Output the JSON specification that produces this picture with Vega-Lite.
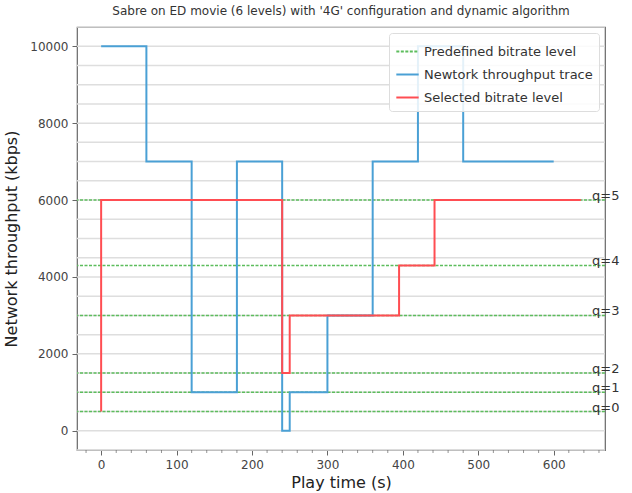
{
  "$schema": "https://vega.github.io/schema/vega-lite/v6.json",
  "autosize": {"type": "none"},
  "padding": {"left": 77, "top": 27, "right": 27, "bottom": 43},
  "width": 528,
  "height": 423,
  "title": {"text": "Sabre on ED movie (6 levels) with '4G' configuration and dynamic algorithm", "fontSize": 12, "fontWeight": "normal", "font": "DejaVu Sans", "color": "#333", "offset": 8},
  "config": {
    "font": "DejaVu Sans",
    "view": {"stroke": "#666", "strokeWidth": 1.2},
    "axis": {"labelFont": "DejaVu Sans", "titleFont": "DejaVu Sans", "labelColor": "#444", "titleColor": "#222", "domainColor": "#666", "tickColor": "#666", "labelFontSize": 12, "titleFontSize": 16, "titleFontWeight": "normal"}
  },
  "datasets": {
    "levels": [
      {"q": "q=0", "kbps": 500, "series": "Predefined bitrate level"},
      {"q": "q=1", "kbps": 1000, "series": "Predefined bitrate level"},
      {"q": "q=2", "kbps": 1500, "series": "Predefined bitrate level"},
      {"q": "q=3", "kbps": 3000, "series": "Predefined bitrate level"},
      {"q": "q=4", "kbps": 4300, "series": "Predefined bitrate level"},
      {"q": "q=5", "kbps": 6000, "series": "Predefined bitrate level"}
    ],
    "traces": [
      {"series": "Newtork throughput trace", "i": 0, "t": 0, "kbps": 10000},
      {"series": "Newtork throughput trace", "i": 1, "t": 60, "kbps": 7000},
      {"series": "Newtork throughput trace", "i": 2, "t": 120, "kbps": 1000},
      {"series": "Newtork throughput trace", "i": 3, "t": 180, "kbps": 7000},
      {"series": "Newtork throughput trace", "i": 4, "t": 240, "kbps": 0},
      {"series": "Newtork throughput trace", "i": 5, "t": 250, "kbps": 1000},
      {"series": "Newtork throughput trace", "i": 6, "t": 300, "kbps": 3000},
      {"series": "Newtork throughput trace", "i": 7, "t": 360, "kbps": 7000},
      {"series": "Newtork throughput trace", "i": 8, "t": 420, "kbps": 10000},
      {"series": "Newtork throughput trace", "i": 9, "t": 480, "kbps": 7000},
      {"series": "Newtork throughput trace", "i": 10, "t": 600, "kbps": 7000},
      {"series": "Selected bitrate level", "i": 0, "t": 0, "kbps": 500},
      {"series": "Selected bitrate level", "i": 1, "t": 0, "kbps": 6000},
      {"series": "Selected bitrate level", "i": 2, "t": 240, "kbps": 1500},
      {"series": "Selected bitrate level", "i": 3, "t": 250, "kbps": 3000},
      {"series": "Selected bitrate level", "i": 4, "t": 395, "kbps": 4300},
      {"series": "Selected bitrate level", "i": 5, "t": 442, "kbps": 6000},
      {"series": "Selected bitrate level", "i": 6, "t": 636, "kbps": 6000}
    ]
  },
  "layer": [
    {
      "data": {"values": [{"g": -500}, {"g": 0}, {"g": 500}, {"g": 1000}, {"g": 1500}, {"g": 2000}, {"g": 2500}, {"g": 3000}, {"g": 3500}, {"g": 4000}, {"g": 4500}, {"g": 5000}, {"g": 5500}, {"g": 6000}, {"g": 6500}, {"g": 7000}, {"g": 7500}, {"g": 8000}, {"g": 8500}, {"g": 9000}, {"g": 9500}, {"g": 10000}, {"g": 10500}]},
      "mark": {"type": "rule", "color": "#dedede", "strokeWidth": 1.5},
      "encoding": {"y": {"field": "g", "type": "quantitative", "scale": {"domain": [-500, 10500], "nice": false, "zero": false},
          "axis": {"title": "Network throughput (kbps)", "values": [0, 2000, 4000, 6000, 8000, 10000], "format": "d", "grid": false, "tickSize": 5, "labelPadding": 4, "domain": false, "titlePadding": 10}}}
    },
    {
      "data": {"values": [{"m": -20}, {"m": 20}, {"m": 40}, {"m": 60}, {"m": 80}, {"m": 120}, {"m": 140}, {"m": 160}, {"m": 180}, {"m": 220}, {"m": 240}, {"m": 260}, {"m": 280}, {"m": 320}, {"m": 340}, {"m": 360}, {"m": 380}, {"m": 420}, {"m": 440}, {"m": 460}, {"m": 480}, {"m": 520}, {"m": 540}, {"m": 560}, {"m": 580}, {"m": 620}, {"m": 640}, {"m": 660}]},
      "mark": {"type": "tick", "orient": "vertical", "color": "#666", "size": 3, "thickness": 1, "yOffset": 1.5},
      "encoding": {"x": {"field": "m", "type": "quantitative", "scale": {"domain": [-32, 668], "nice": false, "zero": false},
          "axis": {"title": "Play time (s)", "values": [0, 100, 200, 300, 400, 500, 600], "grid": false, "tickSize": 5, "labelPadding": 4, "domain": false, "titlePadding": 4}}, "y": {"value": 423}}
    },
    {
      "data": {"name": "levels"},
      "mark": {"type": "rule", "strokeWidth": 1.5, "strokeDash": [3, 1.5], "color": "#5dbd5d"},
      "encoding": {"y": {"field": "kbps", "type": "quantitative"}}
    },
    {
      "data": {"name": "traces"},
      "mark": {"type": "line", "interpolate": "step-after", "strokeWidth": 2, "clip": true},
      "encoding": {
        "x": {"field": "t", "type": "quantitative"},
        "y": {"field": "kbps", "type": "quantitative"},
        "order": {"field": "i", "type": "quantitative"},
        "color": {"field": "series", "type": "nominal",
          "scale": {"domain": ["Predefined bitrate level", "Newtork throughput trace", "Selected bitrate level"], "range": ["#5dbd5d", "#4aa0d5", "#ff4d52"]},
          "legend": {"title": null, "orient": "top-right", "offset": 6, "fillColor": "rgba(255,255,255,0.85)", "strokeColor": "#ddd", "padding": 6, "cornerRadius": 3, "symbolType": "stroke", "symbolSize": 500, "symbolStrokeWidth": 2, "labelFontSize": 13, "labelColor": "#333", "rowPadding": 3, "labelLimit": 300}},
        "strokeDash": {"field": "series", "type": "nominal",
          "scale": {"domain": ["Predefined bitrate level", "Newtork throughput trace", "Selected bitrate level"], "range": [[3, 1.5], [1, 0], [1, 0]]},
          "legend": null}
      }
    },
    {
      "data": {"name": "levels"},
      "mark": {"type": "text", "align": "left", "baseline": "middle", "dx": -13, "dy": -4, "fontSize": 13, "color": "#333"},
      "encoding": {
        "x": {"value": "width"},
        "y": {"field": "kbps", "type": "quantitative"},
        "text": {"field": "q"}
      }
    }
  ]
}
